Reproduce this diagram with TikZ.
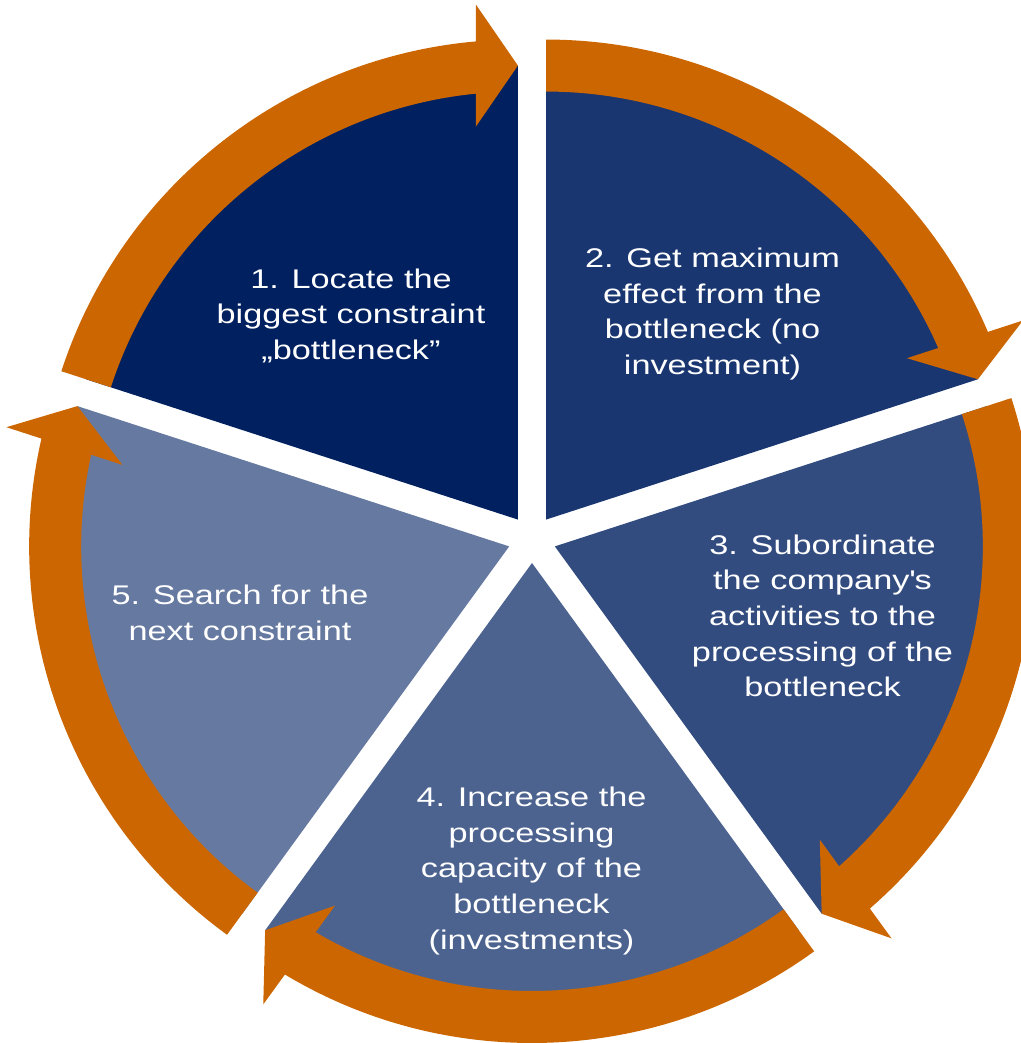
\documentclass[tikz,border=0pt]{standalone}
\usepackage{fontspec}
\newfontfamily\lblfont[FakeStretch=1.27]{Liberation Sans}
\definecolor{navy}{HTML}{002060}
\colorlet{s1}{navy}
\colorlet{s2}{navy!90!white}
\colorlet{s3}{navy!80!white}
\colorlet{s4}{navy!70!white}
\colorlet{s5}{navy!60!white}
\definecolor{arrorange}{HTML}{CC6600}
\begin{document}
\begin{tikzpicture}[x=1pt,y=1pt,
  lbl/.style={text=white, inner sep=0pt, anchor=base,
    font=\lblfont\fontsize{27}{35.6}\selectfont},
  arrowband/.style={fill=arrorange}]
\useasboundingbox (0,0) rectangle (1020,1043);
% sectors
\foreach \k/\col in {1/s1,2/s2,3/s3,4/s4,5/s5} {
  \pgfmathsetmacro\ae{90-72*(\k-1)}
  \pgfmathsetmacro\ax{532+24*cos(\ae+36)}
  \pgfmathsetmacro\ay{504+24*sin(\ae+36)}
  \begin{scope}[shift={(\ax,\ay)}, rotate=\ae]
    \fill[\col] (0,0) -- (0:454) arc[start angle=0, end angle=72, radius=454] -- cycle;
  \end{scope}
}
% arrows
\foreach \k in {1,...,5} {
  \pgfmathsetmacro\ae{90-72*(\k-1)}
  \pgfmathsetmacro\ax{532+24*cos(\ae+36)}
  \pgfmathsetmacro\ay{504+24*sin(\ae+36)}
  \begin{scope}[shift={(\ax,\ay)}, rotate=\ae]
    \fill[arrowband] (72:480) arc[start angle=72, end angle=5.02, radius=480]
      -- (515,42) -- (454,0) -- (393,42) -- (5.63:428)
      arc[start angle=5.63, end angle=72, radius=428] -- cycle;
  \end{scope}
}
% labels
\node[lbl] (t1) at (351,754.7) {\begin{tabular}[t]{@{}c@{}}1. Locate the\\ biggest constraint\\ „bottleneck”\end{tabular}};
\node[lbl] (t2) at (712.5,775.3) {\begin{tabular}[t]{@{}c@{}}2. Get maximum\\ effect from the\\ bottleneck (no\\ investment)\end{tabular}};
\node[lbl] (t3) at (822.5,488.7) {\begin{tabular}[t]{@{}c@{}}3. Subordinate\\ the company\textquotesingle s\\ activities to the\\ processing of the\\ bottleneck\end{tabular}};
\node[lbl] (t4) at (531.5,236.3) {\begin{tabular}[t]{@{}c@{}}4. Increase the\\ processing\\ capacity of the\\ bottleneck\\ (investments)\end{tabular}};
\node[lbl] (t5) at (240,438) {\begin{tabular}[t]{@{}c@{}}5. Search for the\\ next constraint\end{tabular}};
\end{tikzpicture}
\end{document}
